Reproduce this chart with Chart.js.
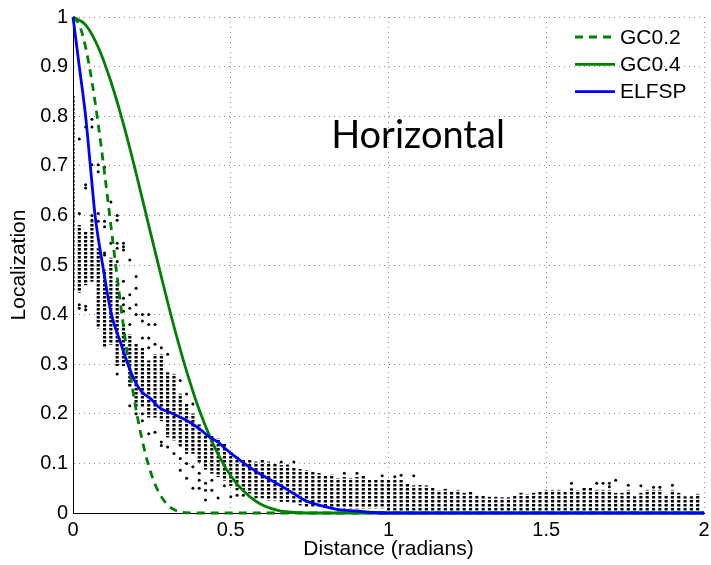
<!DOCTYPE html>
<html>
<head>
<meta charset="utf-8">
<script src="https://cdn.jsdelivr.net/npm/chart.js@4.4.1/dist/chart.umd.min.js"></script>
<style>
  html, body { margin: 0; padding: 0; background: #fff; }
</style>
</head>
<body>
<canvas id="c" width="711" height="565"></canvas>
<script>
// tick labels
const xTicks = ['0', '0.5', '1', '1.5', '2'];
const yTicks = ['0', '0.1', '0.2', '0.3', '0.4', '0.5', '0.6', '0.7', '0.8', '0.9', '1'];
const panelTitle = 'Horizontal';

// sample columns (distance bins), dense part of each column as [lo, hi]
const colX = [0, 0.02, 0.04, 0.06, 0.08, 0.1, 0.12, 0.14, 0.16, 0.18,
  0.2, 0.22, 0.24, 0.26, 0.28, 0.3, 0.32, 0.34, 0.36, 0.38,
  0.4, 0.42, 0.44, 0.46, 0.48, 0.5, 0.52, 0.54, 0.56, 0.58,
  0.6, 0.62, 0.64, 0.66, 0.68, 0.7, 0.72, 0.74, 0.76, 0.78,
  0.8, 0.82, 0.84, 0.86, 0.88, 0.9, 0.92, 0.94, 0.96, 0.98,
  1, 1.02, 1.04, 1.06, 1.08, 1.1, 1.12, 1.14, 1.16, 1.18,
  1.2, 1.22, 1.24, 1.26, 1.28, 1.3, 1.32, 1.34, 1.36, 1.38,
  1.4, 1.42, 1.44, 1.46, 1.48, 1.5, 1.52, 1.54, 1.56, 1.58,
  1.6, 1.62, 1.64, 1.66, 1.68, 1.7, 1.72, 1.74, 1.76, 1.78,
  1.8, 1.82, 1.84, 1.86, 1.88, 1.9, 1.92, 1.94, 1.96, 1.98];
const colLo = [0.45, 0.445, 0.46, 0.467, 0.373, 0.333, 0.34, 0.297, 0.297, 0.253,
  0.213, 0.213, 0.193, 0.193, 0.186, 0.153, 0.147, 0.133, 0.12, 0.12,
  0.1, 0.088, 0.08, 0.073, 0.066, 0.055, 0.046, 0.046, 0.04, 0.03,
  0.03, 0.026, 0.026, 0.023, 0.023, 0.02, 0.016, 0.013, 0.013, 0.013,
  0.013, 0.01, 0.01, 0.01, 0.01, 0.01, 0.01, 0.01, 0.01, 0.01,
  0.005, 0.005, 0.005, 0.005, 0.005, 0.005, 0.005, 0.005, 0.005, 0.005,
  0.005, 0.005, 0.005, 0.005, 0.005, 0.005, 0.005, 0.005, 0.005, 0.005,
  0.005, 0.005, 0.005, 0.005, 0.005, 0.005, 0.005, 0.005, 0.005, 0.005,
  0.005, 0.005, 0.005, 0.005, 0.005, 0.005, 0.005, 0.005, 0.005, 0.005,
  0.005, 0.005, 0.005, 0.005, 0.005, 0.005, 0.005, 0.005, 0.005, 0.005];
const colHi = [0.84, 0.58, 0.567, 0.587, 0.533, 0.49, 0.514, 0.467, 0.38, 0.36,
  0.34, 0.333, 0.307, 0.32, 0.32, 0.283, 0.28, 0.24, 0.22, 0.2,
  0.178, 0.16, 0.155, 0.15, 0.14, 0.125, 0.113, 0.106, 0.106, 0.103,
  0.106, 0.103, 0.1, 0.096, 0.097, 0.09, 0.088, 0.086, 0.084, 0.08,
  0.074, 0.077, 0.07, 0.072, 0.07, 0.072, 0.075, 0.066, 0.066, 0.068,
  0.066, 0.066, 0.068, 0.06, 0.055, 0.056, 0.055, 0.05, 0.045, 0.048,
  0.044, 0.046, 0.04, 0.042, 0.036, 0.035, 0.032, 0.032, 0.031, 0.031,
  0.035, 0.04, 0.037, 0.04, 0.043, 0.046, 0.046, 0.046, 0.043, 0.049,
  0.045, 0.051, 0.051, 0.046, 0.046, 0.046, 0.04, 0.04, 0.046, 0.033,
  0.04, 0.046, 0.046, 0.046, 0.036, 0.046, 0.04, 0.033, 0.033, 0.038];

// loose dots outside the dense part of a column
const looseCols = [0.02, 0.04, 0.06, 0.08, 0.1, 0.12, 0.14, 0.16, 0.18, 0.2,
  0.22, 0.24, 0.26, 0.28, 0.3, 0.32, 0.34, 0.36, 0.38, 0.4,
  0.42, 0.44, 0.46, 0.48, 0.5, 0.52, 0.54, 0.66, 0.7, 0.86,
  0.9, 0.98, 1.02, 1.04, 1.08, 1.58, 1.66, 1.68, 1.7, 1.72,
  1.76, 1.8, 1.84, 1.86, 1.9];
const looseYs = [[0.754, 0.604, 0.42, 0.413], [0.778, 0.662, 0.655, 0.417, 0.41],
  [0.794, 0.778, 0.702, 0.6, 0.59], [0.702, 0.688, 0.604, 0.588],
  [0.697, 0.588, 0.577, 0.524, 0.52], [0.627, 0.544],
  [0.6, 0.59, 0.544, 0.534, 0.507, 0.28], [0.544, 0.537, 0.53, 0.467, 0.433, 0.42, 0.407],
  [0.51, 0.44, 0.413, 0.38, 0.216], [0.477, 0.453, 0.42, 0.4, 0.2],
  [0.4, 0.387, 0.353, 0.2, 0.186], [0.4, 0.38, 0.353, 0.333, 0.16],
  [0.38, 0.34, 0.163], [0.333, 0.143, 0.136], [0.32, 0.133], [0.12],
  [0.267, 0.11, 0.086], [0.24, 0.1, 0.07], [0.22, 0.093, 0.05], [0.08, 0.066, 0.05],
  [0.06, 0.046, 0.026], [0.066, 0.046], [0.03], [0.055], [0.033], [0.036], [0.036],
  [0.103], [0.103], [0.08], [0.08], [0.075], [0.073], [0.076], [0.075],
  [0.06], [0.06], [0.06], [0.06, 0.053], [0.066], [0.056], [0.055], [0.052], [0.052], [0.056]];

// Gaspari-Cohn curves
const gc02X = [0, 0.02, 0.04, 0.06, 0.08, 0.1, 0.12, 0.14, 0.16, 0.18, 0.2,
  0.22, 0.24, 0.26, 0.28, 0.3, 0.32, 0.34, 0.36, 0.38, 0.4, 2];
const gc02Y = [1, 0.984, 0.939, 0.87, 0.784, 0.685, 0.58, 0.476, 0.376, 0.286, 0.208,
  0.145, 0.095, 0.058, 0.033, 0.016, 0.007, 0.002, 0.0005, 0, 0, 0];
const gc04X = [0, 0.04, 0.08, 0.12, 0.16, 0.2, 0.24, 0.28, 0.32, 0.36, 0.4,
  0.44, 0.48, 0.52, 0.56, 0.6, 0.64, 0.68, 0.72, 0.76, 0.8, 2];
const gc04Y = [1, 0.984, 0.939, 0.87, 0.784, 0.685, 0.58, 0.476, 0.376, 0.286, 0.208,
  0.145, 0.095, 0.058, 0.033, 0.016, 0.007, 0.002, 0.0005, 0, 0, 0];

// ELFSP curve
const elfX = [0, 0.02, 0.04, 0.055, 0.07, 0.094, 0.122, 0.15, 0.174, 0.196, 0.22, 0.243,
  0.275, 0.306, 0.34, 0.37, 0.4, 0.433, 0.46, 0.486, 0.515, 0.543, 0.57, 0.6, 0.65,
  0.7, 0.74, 0.78, 0.84, 0.9, 0.95, 1, 2];
const elfY = [1, 0.9, 0.8, 0.7, 0.6, 0.5, 0.4, 0.345, 0.3, 0.266, 0.243, 0.232,
  0.212, 0.203, 0.193, 0.183, 0.17, 0.153, 0.143, 0.128, 0.113, 0.1, 0.088, 0.076, 0.058,
  0.039, 0.024, 0.016, 0.007, 0.004, 0.001, 0, 0];

const FONT = "'Liberation Sans', Arial, sans-serif";
const GREEN = '#008000';
const BLUE = '#0000ff';

const ctx = document.getElementById('c').getContext('2d');

// dotted fill so the dense columns read as stacked dots
const tile = document.createElement('canvas');
tile.width = 4; tile.height = 4;
const tg = tile.getContext('2d');
tg.fillStyle = '#000';
tg.fillRect(0, 0, 4, 2.5);
const dotFill = ctx.createPattern(tile, 'repeat');

const pts = (xs, ys) => xs.map((x, i) => ({ x, y: ys[i] }));
const bars = colX.map((x, i) => ({ x, y: [colLo[i], colHi[i]] }));
const loose = looseCols.flatMap((x, i) => looseYs[i].map(y => ({ x, y })));

const overlay = {
  id: 'overlay',
  afterDraw(chart) {
    const c = chart.ctx;
    c.save();
    c.fillStyle = '#000';
    c.font = "38px Lato, 'Open Sans', sans-serif";
    c.textAlign = 'center';
    c.textBaseline = 'middle';
    c.fillText(panelTitle, 418, 136);

    c.font = '21px ' + FONT;
    c.textAlign = 'left';
    chart.data.datasets.filter(d => d.type === 'line').forEach((d, i) => {
      const y = 37 + i * 27.3;
      c.strokeStyle = d.borderColor;
      c.lineWidth = d.borderWidth;
      c.setLineDash(d.borderDash || []);
      c.beginPath();
      c.moveTo(575, y);
      c.lineTo(615, y);
      c.stroke();
      c.setLineDash([]);
      c.fillText(d.label, 620, y + 1);
    });
    c.restore();
  }
};

new Chart(ctx, {
  type: 'scatter',
  data: {
    datasets: [
      { type: 'line', label: 'GC0.2', data: pts(gc02X, gc02Y), borderColor: GREEN, borderWidth: 2.8,
        borderDash: [8, 6], pointRadius: 0, cubicInterpolationMode: 'monotone', fill: false, clip: false, order: 2 },
      { type: 'line', label: 'GC0.4', data: pts(gc04X, gc04Y), borderColor: GREEN, borderWidth: 2.8,
        pointRadius: 0, cubicInterpolationMode: 'monotone', fill: false, clip: false, order: 1 },
      { type: 'line', label: 'ELFSP', data: pts(elfX, elfY), borderColor: BLUE, borderWidth: 2.8,
        pointRadius: 0, cubicInterpolationMode: 'monotone', fill: false, clip: false, order: 0 },
      { type: 'scatter', label: 'samples', data: loose, pointRadius: 1.5, pointBorderWidth: 0,
        backgroundColor: '#000', order: 3 },
      { type: 'bar', label: 'columns', data: bars, backgroundColor: dotFill, borderWidth: 0,
        barThickness: 2.5, order: 4 },
    ]
  },
  options: {
    responsive: false,
    animation: false,
    events: [],
    layout: { padding: { top: 14, right: 0, left: 0, bottom: 0 } },
    plugins: {
      legend: { display: false },
      tooltip: { enabled: false },
    },
    scales: {
      x: {
        type: 'linear', min: 0, max: 2, offset: false,
        afterFit: s => { s.height = 52; s.paddingRight = 7; s.paddingLeft = 0; },
        ticks: { stepSize: 0.5, padding: 5, color: '#000', maxRotation: 0, autoSkip: false,
          font: { family: FONT, size: 20 }, callback: (v, i) => xTicks[i] },
        grid: { color: '#8a8a8a', lineWidth: 1, drawTicks: false, offset: false },
        border: { display: true, color: '#000', width: 1, dash: [1, 4] },
        title: { display: true, text: 'Distance (radians)', color: '#000',
          font: { family: FONT, size: 21 }, padding: { top: 0, bottom: 3 } },
      },
      y: {
        type: 'linear', min: 0, max: 1,
        afterFit: s => { s.width = 73; },
        ticks: { stepSize: 0.1, padding: 5, color: '#000',
          font: { family: FONT, size: 20 }, callback: (v, i) => yTicks[i] },
        grid: { color: '#8a8a8a', lineWidth: 1, drawTicks: false },
        border: { display: true, color: '#000', width: 1, dash: [1, 4] },
        title: { display: true, text: 'Localization', color: '#000',
          font: { family: FONT, size: 21 }, padding: { top: 7, bottom: 0 } },
      },
    },
  },
  plugins: [overlay],
});
</script>
</body>
</html>
